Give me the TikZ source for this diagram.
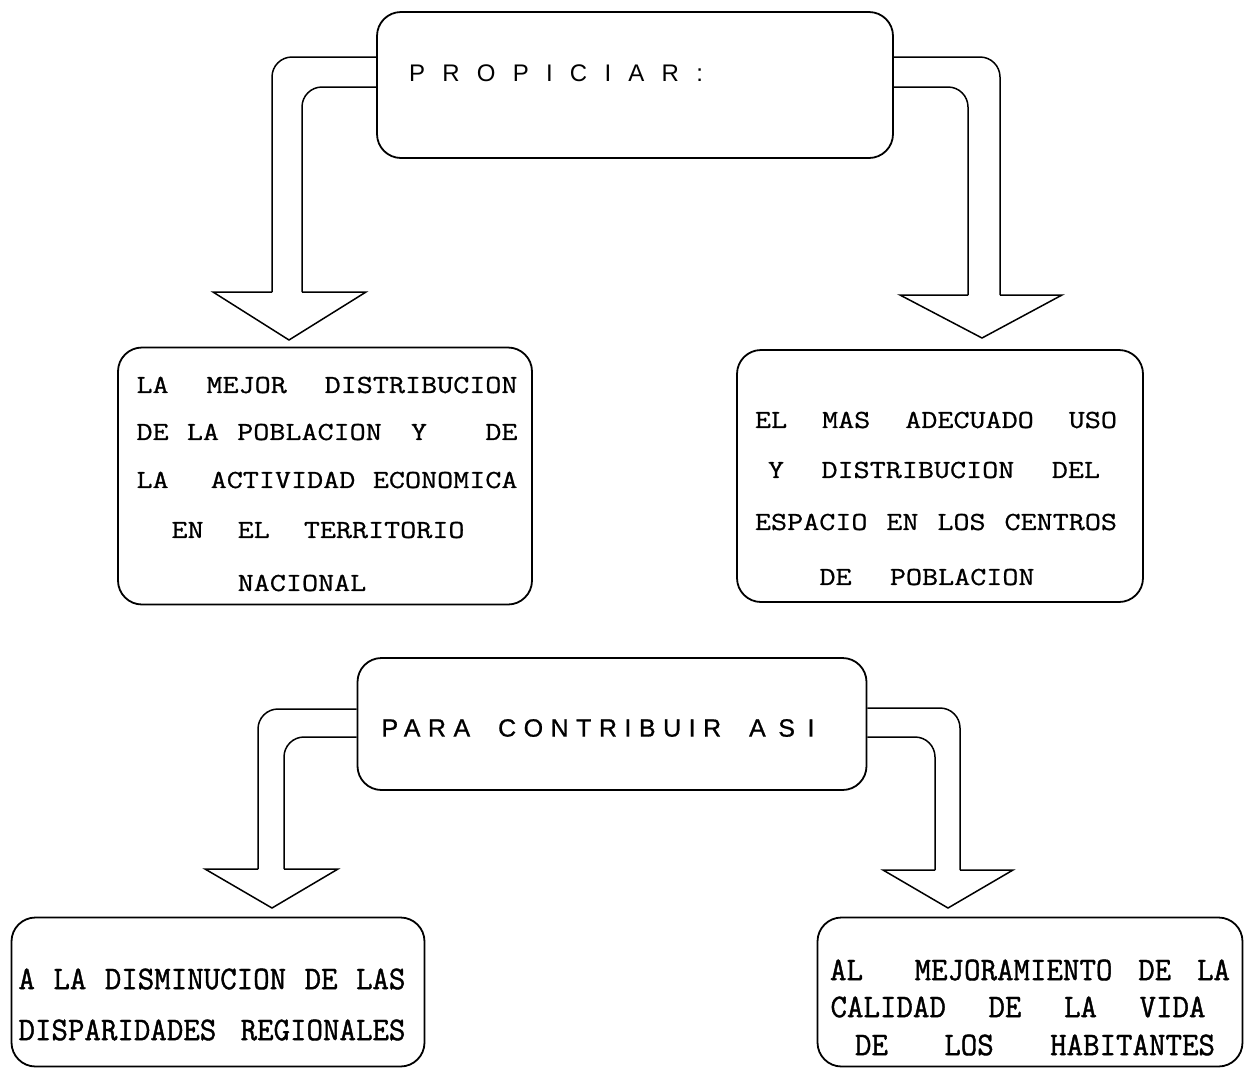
\documentclass[tikz,border=0pt]{standalone}
\usepackage{fontspec}
\setmainfont{Liberation Serif}
\newfontfamily\twfont[FakeStretch=1.2,FakeBold=0.8]{Latin Modern Mono}
\newfontfamily\twcond[FakeStretch=0.97,FakeBold=1.2]{Latin Modern Mono}
\newfontfamily\sfspaced[LetterSpace=30,FakeBold=0.8]{Liberation Sans}
\newfontfamily\sfplain{Liberation Sans}
\usetikzlibrary{calc}
\newcommand{\ff}[1]{\hspace{0pt plus #1fill}}
\begin{document}
\begin{tikzpicture}[x=1pt,y=-1pt,
  box/.style={draw, line width=1.8pt, rounded corners=24pt, inner sep=0pt},
  shaft/.style={draw, line width=1.5pt, rounded corners=20pt},
  headln/.style={draw, line width=1.5pt, line join=miter},
  twtext/.style={inner sep=0pt, font=\twfont\fontsize{26}{26}\selectfont},
  twc/.style={inner sep=0pt, font=\twcond\fontsize{33}{33}\selectfont},
  sftext/.style={inner sep=0pt}]
\fill[white] (0,0) rectangle (1248,1080);
\useasboundingbox (0,0) rectangle (1248,1080);

% boxes
\node[box, minimum width=516pt, minimum height=146pt] (top) at (635,85) {};
\node[box, minimum width=414pt, minimum height=257pt] (b1) at (325,476) {};
\node[box, minimum width=406pt, minimum height=252pt] (b2) at (940,476) {};
\node[box, minimum width=509pt, minimum height=132pt] (mid) at (612,724) {};
\node[box, minimum width=413pt, minimum height=149pt] (b3) at (218,992) {};
\node[box, minimum width=425pt, minimum height=149pt] (b4) at (1030,992) {};

% texts
\node[sftext, font=\sfplain\fontsize{24}{24}\selectfont] (ttop) at (556,73)
  {\makebox[294pt]{P\hfill R\hfill O\hfill P\hfill I\hfill C\hfill I\hfill A\hfill R\hfill :}};
\node[sftext, font=\sfspaced\fontsize{25}{25}\selectfont] (tmid) at (598,728)
  {\makebox[433pt]{PARA\ff{1}CONTRIBUIR\ff{1}A\ff{.45}S\ff{.45}I}};

\node[twtext] (b1a) at (327,385) {\makebox[381pt]{LA\ff{1}MEJOR\ff{1}DISTRIBUCION}};
\node[twtext] (b1b) at (327,432) {\makebox[381pt]{DE\ff{1}LA\ff{1}POBLACION\ff{1.6}Y\ff{3.2}DE}};
\node[twtext] (b1c) at (327,480) {\makebox[381pt]{LA\ff{2.4}ACTIVIDAD\ff{1}ECONOMICA}};
\node[twtext] (b1d) at (318,530) {\makebox[293pt]{EN\ff{1}EL\ff{1}TERRITORIO}};
\node[twtext] (b1e) at (302,583) {NACIONAL};

\node[twtext] (b2a) at (936,420) {\makebox[362pt]{EL\ff{1}MAS\ff{1}ADECUADO\ff{1}USO}};
\node[twtext] (b2b) at (934,470) {\makebox[332pt]{Y\ff{1}DISTRIBUCION\ff{1}DEL}};
\node[twtext] (b2c) at (936,522) {\makebox[362pt]{ESPACIO\ff{1}EN\ff{1}LOS\ff{1}CENTROS}};
\node[twtext] (b2d) at (927,577) {\makebox[215pt]{DE\ff{1}POBLACION}};

\node[twc] (b3a) at (212,979) {\makebox[387pt]{A\ff{1}LA\ff{1}DISMINUCION\ff{1}DE\ff{1}LAS}};
\node[twc] (b3b) at (212,1030) {\makebox[387pt]{DISPARIDADES\ff{1}REGIONALES}};

\node[twc] (b4a) at (1030,970) {\makebox[400pt]{AL\ff{2}MEJORAMIENTO\ff{1}DE\ff{1}LA}};
\node[twc] (b4b) at (1018,1007) {\makebox[375pt]{CALIDAD\ff{1}DE\ff{1}LA\ff{1}VIDA}};
\node[twc] (b4c) at (1035,1045) {\makebox[360pt]{DE\ff{1}LOS\ff{1}HABITANTES}};

% arrow tips
\coordinate (t1) at (289,340);
\coordinate (t2) at (982,338);
\coordinate (t3) at (272,908);
\coordinate (t4) at (948,908);

% arrow 1: top -> b1
\draw[shaft] (top.west |- 0,57) -| (272,292);
\draw[shaft] (top.west |- 0,87) -| (302,292);
\draw[headln] (272,292) -- (213,292) -- (t1) -- (366,292) -- (302,292);

% arrow 2: top -> b2
\draw[shaft] (top.east |- 0,57) -| (1000,295);
\draw[shaft] (top.east |- 0,87) -| (968,295);
\draw[headln] (1000,295) -- (1062,295) -- (t2) -- (900,295) -- (968,295);

% arrow 3: mid -> b3
\draw[shaft] (mid.west |- 0,709) -| (258,869);
\draw[shaft] (mid.west |- 0,737) -| (284,869);
\draw[headln] (258,869) -- (205,869) -- (t3) -- (338,869) -- (284,869);

% arrow 4: mid -> b4
\draw[shaft] (mid.east |- 0,708) -| (960,870);
\draw[shaft] (mid.east |- 0,737) -| (935,870);
\draw[headln] (960,870) -- (1013,870) -- (t4) -- (883,870) -- (935,870);
\end{tikzpicture}
\end{document}
